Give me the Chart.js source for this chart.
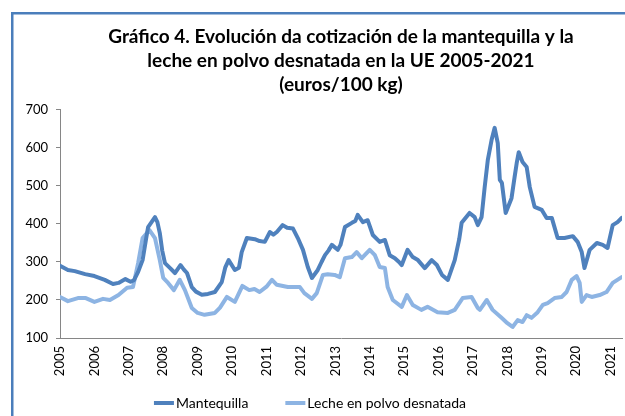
<!DOCTYPE html>
<html>
<head>
<meta charset="utf-8">
<script src="https://cdn.jsdelivr.net/npm/chart.js@4"></script>
<style>
  html, body { margin: 0; padding: 0; background: #fff; }
  #wrap { width: 625px; height: 416px; position: relative; }
</style>
</head>
<body>
<div id="wrap"><canvas id="c" width="625" height="416"></canvas></div>
<script>
const titleLines = [
  "Gráfico 4. Evolución da cotización de la mantequilla y la",
  "leche en polvo desnatada en la UE 2005-2021",
  "(euros/100 kg)"
];
const seriesNames = ["Mantequilla", "Leche en polvo desnatada"];
const yearTicks = [2005,2006,2007,2008,2009,2010,2011,2012,2013,2014,2015,2016,2017,2018,2019,2020,2021];
const valueTicks = [100,200,300,400,500,600,700];

const mantequillaYears = [
  2005.00,2005.23,2005.43,2005.73,2006.00,2006.30,2006.54,2006.70,2006.90,2007.05,
  2007.15,2007.27,2007.40,2007.50,2007.56,2007.66,2007.76,2007.83,2007.90,2007.97,
  2008.05,2008.20,2008.34,2008.50,2008.60,2008.69,2008.83,2008.95,2009.12,2009.30,
  2009.50,2009.70,2009.80,2009.90,2010.08,2010.20,2010.28,2010.43,2010.66,2010.80,
  2010.95,2011.10,2011.20,2011.30,2011.47,2011.60,2011.77,2011.91,2012.06,2012.20,
  2012.32,2012.49,2012.60,2012.70,2012.80,2012.90,2013.07,2013.15,2013.28,2013.48,
  2013.58,2013.65,2013.80,2013.94,2014.09,2014.29,2014.44,2014.58,2014.73,2014.85,
  2014.93,2015.10,2015.25,2015.40,2015.60,2015.80,2015.95,2016.10,2016.27,2016.47,
  2016.60,2016.67,2016.90,2017.05,2017.14,2017.25,2017.34,2017.43,2017.54,2017.63,
  2017.72,2017.78,2017.84,2017.95,2018.12,2018.21,2018.27,2018.33,2018.44,2018.56,
  2018.65,2018.79,2019.00,2019.14,2019.29,2019.46,2019.66,2019.90,2020.04,2020.16,
  2020.24,2020.39,2020.60,2020.77,2020.91,2021.06,2021.20,2021.32
];
const mantequillaValues = [
  290,279,276,268,263,253,242,245,255,248,
  252,274,305,360,392,405,418,405,376,330,
  297,284,271,292,280,271,234,222,214,216,
  221,247,285,305,279,285,326,363,360,355,
  353,379,372,379,397,390,388,363,332,287,
  258,279,300,318,330,345,332,345,392,403,
  408,424,405,410,371,353,358,318,310,300,
  292,332,313,305,284,305,292,266,253,305,
  360,403,429,418,397,418,497,568,621,653,
  613,516,508,429,468,524,560,589,563,550,
  497,445,437,416,416,363,363,368,353,326,
  284,332,350,345,337,397,405,416
];

const lecheYears = [
  2005.00,2005.23,2005.52,2005.75,2006.00,2006.25,2006.45,2006.70,2006.95,2007.12,
  2007.27,2007.40,2007.60,2007.76,2007.90,2008.00,2008.14,2008.31,2008.48,2008.63,
  2008.83,2009.00,2009.20,2009.50,2009.65,2009.85,2010.08,2010.30,2010.50,2010.65,
  2010.80,2011.00,2011.16,2011.30,2011.62,2011.97,2012.10,2012.32,2012.46,2012.64,
  2012.78,2012.98,2013.13,2013.28,2013.48,2013.62,2013.77,2014.00,2014.15,2014.29,
  2014.44,2014.52,2014.67,2014.93,2015.08,2015.25,2015.50,2015.68,2015.97,2016.27,
  2016.47,2016.70,2016.96,2017.14,2017.20,2017.40,2017.57,2017.83,2018.00,2018.15,
  2018.30,2018.44,2018.56,2018.70,2018.88,2019.03,2019.17,2019.37,2019.58,2019.72,
  2019.87,2020.01,2020.10,2020.16,2020.30,2020.45,2020.68,2020.88,2021.06,2021.32
];
const lecheValues = [
  208,197,205,205,195,203,200,213,232,234,
  297,363,384,363,305,258,245,226,253,226,
  179,166,161,166,180,208,195,237,226,229,
  221,235,253,240,234,234,218,203,218,266,
  268,266,260,310,313,326,310,332,318,287,
  284,234,200,182,213,187,174,182,168,166,
  174,205,208,179,174,200,174,153,139,129,
  147,142,160,153,168,187,192,205,208,221,
  253,263,245,195,213,208,213,221,245,260
];

const FONT = "Lato, 'Open Sans', sans-serif";

function toPoints(xs, ys) { return xs.map((x, i) => ({ x: x, y: ys[i] })); }

const borderPlugin = {
  id: 'outerBorder',
  beforeDraw(chart) {
    const ctx = chart.ctx;
    ctx.save();
    ctx.fillStyle = '#ffffff';
    ctx.fillRect(0, 0, chart.width, chart.height);
    ctx.strokeStyle = '#4A7EBB';
    ctx.lineWidth = 2.5;
    ctx.strokeRect(12.25, 13.25, 800, 600);
    ctx.restore();
  }
};

// Legend drawn from the datasets (labels + colours), laid out like the original
const legendPlugin = {
  id: 'bottomLegend',
  afterDraw(chart) {
    const ctx = chart.ctx;
    const sets = chart.data.datasets;
    const sample = 20, gapText = 2, gapItems = 37;
    ctx.save();
    ctx.font = '14px ' + FONT;
    ctx.textBaseline = 'middle';
    ctx.textAlign = 'left';
    const widths = sets.map(d => sample + gapText + ctx.measureText(d.label).width);
    const total = widths.reduce((a, b) => a + b, 0) + gapItems * (sets.length - 1);
    let x = 310 - total / 2;
    const y = 403;
    sets.forEach((d, i) => {
      ctx.strokeStyle = d.borderColor;
      ctx.lineWidth = 4;
      ctx.lineCap = 'butt';
      ctx.beginPath();
      ctx.moveTo(x, y);
      ctx.lineTo(x + sample, y);
      ctx.stroke();
      ctx.fillStyle = '#000';
      ctx.fillText(d.label, x + sample + gapText, y);
      x += widths[i] + gapItems;
    });
    ctx.restore();
  }
};

new Chart(document.getElementById('c'), {
  type: 'line',
  data: {
    datasets: [
      {
        label: seriesNames[0],
        data: toPoints(mantequillaYears, mantequillaValues),
        borderColor: '#4F81BD',
        backgroundColor: '#4F81BD',
        borderWidth: 4,
        pointRadius: 0,
        tension: 0,
        borderJoinStyle: 'round',
        borderCapStyle: 'round'
      },
      {
        label: seriesNames[1],
        data: toPoints(lecheYears, lecheValues),
        borderColor: '#8DB4E3',
        backgroundColor: '#8DB4E3',
        borderWidth: 4,
        pointRadius: 0,
        tension: 0,
        borderJoinStyle: 'round',
        borderCapStyle: 'round'
      }
    ]
  },
  options: {
    responsive: false,
    animation: false,
    events: [],
    layout: { padding: { left: 12, right: 3, top: 25, bottom: 40 } },
    plugins: {
      title: {
        display: true,
        text: titleLines,
        fullSize: false,
        color: '#000',
        font: { family: FONT, size: 19, weight: 'bold', lineHeight: 1.263 },
        padding: { top: 0, bottom: 13 }
      },
      legend: { display: false },
      tooltip: { enabled: false }
    },
    scales: {
      x: {
        type: 'linear',
        min: 2005,
        max: 2021.33,
        afterBuildTicks(scale) { scale.ticks = yearTicks.map(v => ({ value: v })); },
        afterFit(scale) { scale.height = 38; scale.paddingRight = 0; scale.paddingLeft = 0; },
        ticks: {
          minRotation: 90,
          maxRotation: 90,
          autoSkip: false,
          padding: 8,
          color: '#000',
          font: { family: FONT, size: 13 },
          callback: (v) => String(v)
        },
        grid: { drawOnChartArea: false, drawTicks: false },
        border: { display: true, color: '#868686', width: 1 }
      },
      y: {
        min: 100,
        max: 700,
        afterBuildTicks(scale) { scale.ticks = valueTicks.map(v => ({ value: v })); },
        afterFit(scale) { scale.width = 48; },
        ticks: {
          padding: 8,
          color: '#000',
          font: { family: FONT, size: 13 }
        },
        grid: { drawOnChartArea: false, drawTicks: true, tickLength: 4, color: '#868686' },
        border: { display: true, color: '#868686', width: 1 }
      }
    }
  },
  plugins: [borderPlugin, legendPlugin]
});
</script>
</body>
</html>
